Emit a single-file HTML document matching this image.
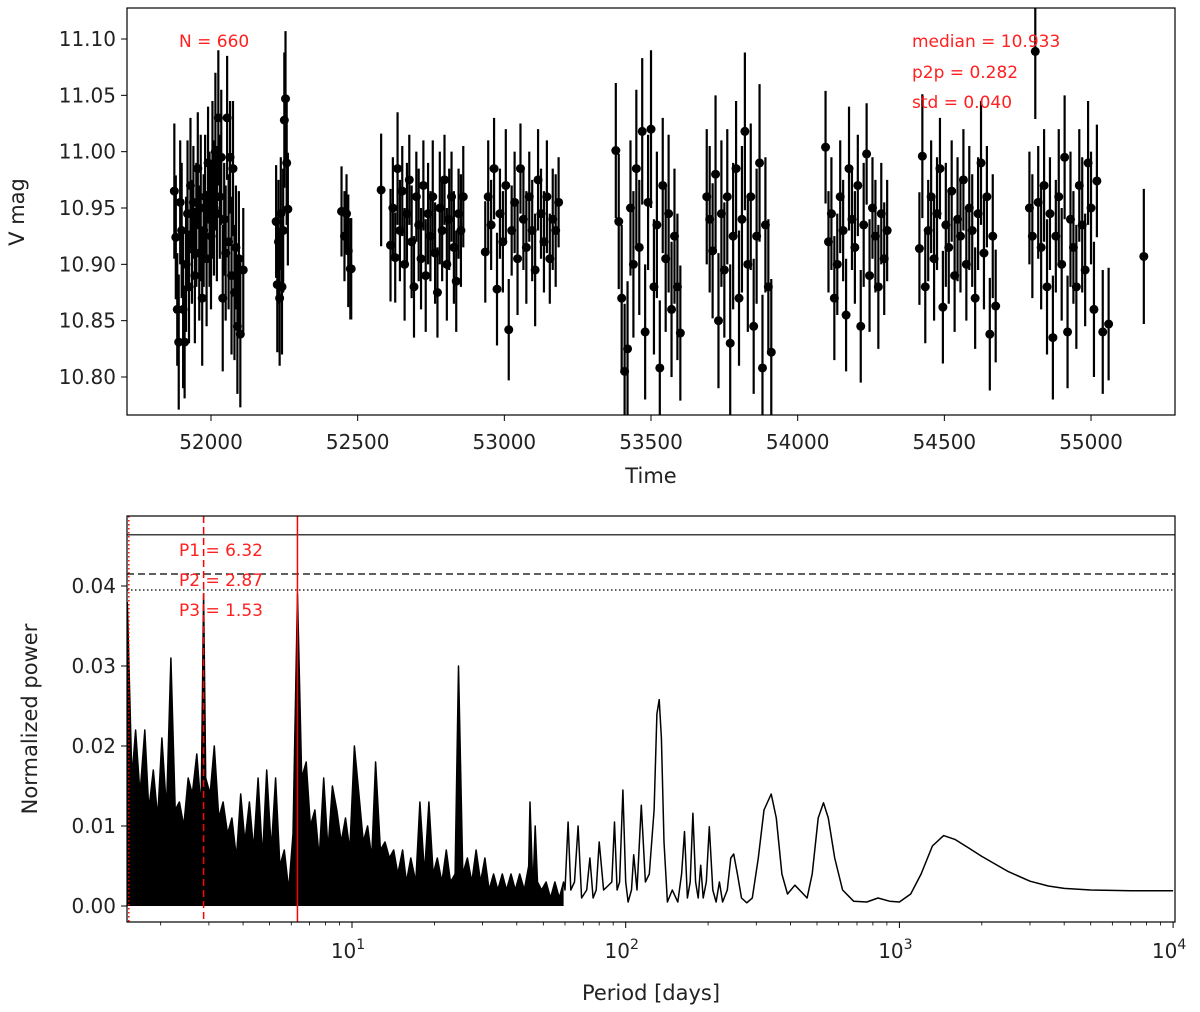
<!DOCTYPE html>
<html><head><meta charset="utf-8"><style>
html,body{margin:0;padding:0;background:#fff;}
svg{display:block;font-family:"DejaVu Sans","Liberation Sans",sans-serif;}
</style></head><body>
<svg id="fig" width="1200" height="1012" viewBox="0 0 1200 1012" xmlns="http://www.w3.org/2000/svg"></svg>
<script>
// ---- Light curve data ----
const times = [
51875,51880,51885,51890,51895,51900,51905,51910,51915,51920,51925,51930,51935,51940,51945,51950,51955,51960,51965,51970,51975,51980,51985,51990,51995,52000,52005,52010,52015,52020,52025,52030,52035,52040,52045,52050,52055,52060,52065,52070,52075,52080,52085,52090,52095,52100,52110,
52222,52226,52230,52234,52238,52242,52246,52250,52254,52258,52262,
52445,52455,52462,52468,52475,52478,
52580,
52612,52620,52628,52636,52644,52652,52660,52668,52676,52684,52692,52700,52708,52716,52724,52732,52740,52748,52756,52764,52772,52780,52788,52796,52804,52812,52820,52828,52836,52844,52852,52860,
52935,52945,52955,52965,52975,52985,52995,53005,53015,53025,53035,53045,53055,53065,53075,53085,53095,53105,53115,53125,53135,53145,53155,53165,53175,53185,
53380,53390,53400,53410,53420,53430,53440,53450,53460,53470,53480,53490,53500,53510,53520,53530,53540,53550,53560,53570,53580,53590,53600,
53690,53700,53710,53720,53730,53740,53750,53760,53770,53780,53790,53800,53810,53820,53830,53840,53850,53860,53870,53880,53890,53900,53910,
54095,54105,54115,54125,54135,54145,54155,54165,54175,54185,54195,54205,54215,54225,54235,54245,54255,54265,54275,54285,54295,54305,
54415,54425,54435,54445,54455,54465,54475,54485,54495,54505,54515,54525,54535,54545,54555,54565,54575,54585,54595,54605,54615,54625,54635,54645,54655,54665,54675,
54790,54800,54810,54820,54830,54840,54850,54860,54870,54880,54890,54900,54910,54920,54930,54940,54950,54960,54970,54980,54990,55000,55010,55020,55040,55060,55180];
const mags = [
10.965,10.924,10.860,10.831,10.955,10.930,10.860,10.831,10.900,10.945,10.880,10.970,10.920,10.955,10.890,10.935,10.985,10.910,10.950,10.870,10.930,10.960,10.905,10.990,10.940,10.925,10.975,10.950,11.000,10.945,11.030,10.960,10.995,10.870,10.940,10.910,11.030,10.920,10.995,10.890,10.985,10.875,10.915,10.845,10.905,10.838,10.895,
10.938,10.882,10.920,10.870,10.945,10.880,10.930,11.028,11.047,10.990,10.949,
10.947,10.925,10.945,10.912,10.896,10.896,
10.966,
10.917,10.950,10.906,10.985,10.930,10.965,10.900,10.945,10.975,10.920,10.880,10.960,10.935,10.905,10.970,10.890,10.945,10.925,10.960,10.910,10.875,10.950,10.930,10.975,10.900,10.940,10.960,10.915,10.885,10.945,10.930,10.960,
10.911,10.960,10.935,10.985,10.878,10.945,10.920,10.970,10.842,10.930,10.955,10.905,10.985,10.940,10.915,10.960,10.930,10.895,10.975,10.945,10.920,10.960,10.905,10.940,10.930,10.955,
11.001,10.938,10.870,10.805,10.825,10.950,10.900,10.985,10.915,11.018,10.840,10.955,11.020,10.880,10.935,10.808,10.970,10.905,10.945,10.860,10.925,10.880,10.839,
10.960,10.940,10.912,10.980,10.850,10.945,10.895,10.960,10.830,10.925,10.985,10.870,10.940,11.018,10.900,10.960,10.845,10.925,10.990,10.808,10.935,10.880,10.822,
11.004,10.920,10.945,10.870,10.900,10.960,10.930,10.855,10.985,10.940,10.915,10.970,10.845,10.935,10.998,10.890,10.950,10.925,10.880,10.945,10.905,10.930,
10.914,10.996,10.880,10.930,10.960,10.905,10.945,10.985,10.862,10.935,10.915,10.965,10.890,10.940,10.925,10.975,10.900,10.950,10.930,10.870,10.945,10.990,10.910,10.960,10.838,10.925,10.863,
10.950,10.925,11.089,10.955,10.915,10.970,10.880,10.945,10.835,10.925,10.960,10.900,10.995,10.840,10.940,10.915,10.880,10.970,10.935,10.895,10.990,10.950,10.860,10.974,10.840,10.847,10.907];
const errs = [
0.06,0.055,0.05,0.06,0.055,0.06,0.07,0.05,0.06,0.065,0.05,0.06,0.055,0.05,0.06,0.055,0.05,0.06,0.065,0.06,0.05,0.055,0.06,0.05,0.06,0.065,0.07,0.06,0.07,0.06,0.06,0.055,0.06,0.065,0.05,0.06,0.055,0.06,0.05,0.07,0.06,0.06,0.055,0.06,0.06,0.065,0.055,
0.05,0.06,0.055,0.06,0.05,0.06,0.055,0.06,0.06,0.055,0.05,
0.04,0.04,0.035,0.05,0.045,0.045,
0.05,
0.05,0.045,0.04,0.05,0.045,0.04,0.05,0.045,0.04,0.05,0.045,0.04,0.05,0.045,0.04,0.05,0.045,0.04,0.05,0.045,0.04,0.05,0.045,0.04,0.05,0.045,0.04,0.05,0.045,0.04,0.05,0.045,
0.045,0.05,0.04,0.045,0.05,0.04,0.045,0.05,0.045,0.04,0.045,0.05,0.04,0.045,0.05,0.04,0.045,0.05,0.045,0.04,0.045,0.05,0.04,0.045,0.05,0.04,
0.06,0.06,0.065,0.06,0.06,0.06,0.065,0.07,0.06,0.065,0.06,0.06,0.07,0.06,0.065,0.06,0.06,0.065,0.07,0.06,0.06,0.065,0.06,
0.06,0.065,0.06,0.07,0.06,0.065,0.06,0.06,0.07,0.065,0.06,0.06,0.065,0.07,0.06,0.065,0.06,0.06,0.07,0.065,0.06,0.06,0.065,
0.05,0.045,0.05,0.055,0.045,0.05,0.045,0.05,0.055,0.045,0.05,0.045,0.05,0.055,0.045,0.05,0.045,0.05,0.055,0.045,0.05,0.045,
0.05,0.055,0.05,0.045,0.05,0.055,0.05,0.045,0.05,0.055,0.05,0.045,0.05,0.055,0.05,0.045,0.05,0.055,0.05,0.045,0.05,0.055,0.05,0.045,0.05,0.055,0.05,
0.05,0.055,0.06,0.05,0.055,0.05,0.06,0.05,0.055,0.05,0.06,0.05,0.055,0.05,0.06,0.05,0.055,0.05,0.06,0.05,0.055,0.05,0.06,0.05,0.055,0.05,0.06];
const timeTicks = [52000,52500,53000,53500,54000,54500,55000];
const magTicks = [10.80,10.85,10.90,10.95,11.00,11.05,11.10];

// ---- Periodogram data ----
const periods = [
1.51,1.57,1.62,1.68,1.75,1.81,1.88,1.95,2.02,2.10,2.18,2.26,2.34,2.43,2.52,2.61,2.71,2.81,2.87,2.92,3.03,3.14,3.26,3.38,3.51,3.64,3.78,3.92,4.06,4.22,4.37,4.54,4.71,4.88,5.07,5.26,5.45,5.66,5.87,6.09,6.32,6.55,6.80,7.05,7.32,7.59,7.88,8.17,8.48,8.80,9.13,9.47,9.82,10.2,10.6,11.0,11.4,11.8,12.2,12.7,13.2,13.7,14.2,14.7,15.3,15.8,16.4,17.1,17.7,18.4,19.1,19.8,20.5,21.3,22.1,22.9,23.8,24.5,25.4,26.4,27.4,28.4,29.5,30.6,31.7,32.9,34.1,35.4,36.7,38.1,39.5,41.0,42.6,44.2,44.7,45.8,46.7,47.6,49.3,51.2,53.1,55.1,57.2,59.3,
60,61.6,63,65,67,69,72,74,76,78,80,83,86,89,91,93,95,97.7,100,102,105,107,110,114,118,122,127,130,132.5,135,138,142,148,155,160,164,168,172,176,180,184,188,192,197,202,208,214,220,226,235,242,248,256,265,277,290,305,320,340,355,372,390,415,440,460,480,505,528,550,580,620,680,760,835,920,1000,1100,1200,1320,1450,1600,1800,2000,2500,3000,3500,4000,5000,7000,10000];
const powers = [
0.038,0.016,0.022,0.014,0.022,0.012,0.017,0.011,0.021,0.012,0.031,0.012,0.013,0.010,0.016,0.014,0.019,0.012,0.039,0.016,0.014,0.020,0.011,0.013,0.009,0.011,0.006,0.014,0.008,0.013,0.007,0.016,0.006,0.017,0.007,0.016,0.005,0.007,0.002,0.009,0.039,0.016,0.018,0.010,0.012,0.006,0.016,0.007,0.015,0.012,0.008,0.011,0.007,0.020,0.014,0.008,0.010,0.006,0.018,0.007,0.008,0.006,0.007,0.004,0.007,0.003,0.006,0.003,0.013,0.004,0.013,0.004,0.006,0.003,0.007,0.003,0.004,0.030,0.004,0.006,0.003,0.007,0.003,0.006,0.002,0.004,0.002,0.004,0.002,0.004,0.002,0.004,0.002,0.005,0.013,0.002,0.010,0.003,0.002,0.003,0.001,0.003,0.001,0.003,
0.002,0.0105,0.002,0.003,0.010,0.001,0.002,0.006,0.001,0.002,0.008,0.002,0.0025,0.003,0.0105,0.002,0.003,0.0145,0.003,0.0005,0.002,0.0064,0.002,0.0126,0.003,0.004,0.012,0.024,0.0258,0.021,0.008,0.0005,0.002,0.0005,0.004,0.0093,0.001,0.003,0.0116,0.003,0.001,0.0051,0.001,0.003,0.0099,0.002,0.0005,0.003,0.0005,0.002,0.006,0.0065,0.004,0.001,0.0004,0.001,0.006,0.012,0.014,0.011,0.004,0.0015,0.0026,0.0017,0.001,0.004,0.011,0.0129,0.011,0.006,0.002,0.0006,0.0005,0.001,0.0006,0.0005,0.0015,0.004,0.0075,0.0088,0.0083,0.0072,0.0062,0.0043,0.0031,0.0025,0.0022,0.002,0.0019,0.0019];
const powerTicks = [0.00,0.01,0.02,0.03,0.04];
const periodDecades = [10,100,1000,10000];
const decadeLabels = ["1","2","3","4"];
const bestPeriods = [6.32,2.87,1.53];
const thresholds = [0.0464,0.0415,0.0395];

const NS="http://www.w3.org/2000/svg";
const svg=document.getElementById('fig');
function mk(tag,attrs,parent){const e=document.createElementNS(NS,tag);for(const k in attrs)e.setAttribute(k,attrs[k]);(parent||svg).appendChild(e);return e;}

const T={l:127,r:1175,t:8,b:415};
const xT=t=>211+(t-52000)*146.67/500;
const yM=m=>39+(11.10-m)*338/0.30;
const B={l:127,r:1175,t:516,b:922};
const xP=p=>352+273.7*(Math.log10(p)-1);
const yP=v=>906-v*8000;

mk('defs',{}).innerHTML='<clipPath id="ct"><rect x="127" y="8" width="1048" height="407"/></clipPath><clipPath id="cb"><rect x="127" y="516" width="1048" height="406"/></clipPath>';

// ---- top plot ----
const gTop=mk('g',{'clip-path':'url(#ct)'});


for(let i=0;i<times.length;i++){
  const x=xT(times[i]);
  const ln=mk('line',{x1:x,x2:x,y1:yM(mags[i]+errs[i]),y2:yM(mags[i]-errs[i]),stroke:'#000','stroke-width':2.2},gTop);
  
  
}
for(let i=0;i<times.length;i++){
  const c=mk('circle',{cx:xT(times[i]),cy:yM(mags[i]),r:4.5,fill:'#000'},gTop);
  
  
}
const frT=mk('rect',{x:T.l,y:T.t,width:T.r-T.l,height:T.b-T.t,fill:'none',stroke:'#000','stroke-width':1.2});


timeTicks.forEach(t=>{const x=xT(t);
  mk('line',{x1:x,x2:x,y1:T.b,y2:T.b+6,stroke:'#000','stroke-width':1});
  const tx=mk('text',{x:x,y:T.b+34,'font-size':20,'text-anchor':'middle',fill:'#222'});tx.textContent=t;
  
  
});
magTicks.forEach(m=>{const y=yM(m);
  mk('line',{x1:T.l-6,x2:T.l,y1:y,y2:y,stroke:'#000','stroke-width':1});
  const tx=mk('text',{x:T.l-11,y:y+7,'font-size':20,'text-anchor':'end',fill:'#222'});tx.textContent=m.toFixed(2);
  
  
});
let t1=mk('text',{x:651,y:483,'font-size':21,'text-anchor':'middle',fill:'#222'});t1.textContent='Time';


let t2=mk('text',{x:24,y:212,'font-size':21,'text-anchor':'middle',fill:'#222',transform:'rotate(-90 24 212)'});t2.textContent='V mag';


[['N = 660',179,47],['median = 10.933',912,47],['p2p = 0.282',912,78],['std = 0.040',912,108]].forEach(a=>{
  const tx=mk('text',{x:a[1],y:a[2],'font-size':17,fill:'#ff2020'});tx.textContent=a[0];
  
  
});

// ---- bottom plot ----
const gBot=mk('g',{'clip-path':'url(#cb)'});


let dense=[],all=[];
for(let i=0;i<periods.length;i++){
  const pt=xP(periods[i]).toFixed(1)+','+yP(powers[i]).toFixed(1);
  all.push(pt); if(periods[i]<60) dense.push(pt);
}
const fillPts=[xP(periods[0]).toFixed(1)+','+yP(0)].concat(dense);
fillPts.push(dense[dense.length-1].split(',')[0]+','+yP(0));
const fa=mk('polygon',{points:fillPts.join(' '),fill:'#000'},gBot);


const pl=mk('polyline',{points:all.join(' '),fill:'none',stroke:'#000','stroke-width':1.5,'stroke-linejoin':'round'},gBot);


const dashes=['none','7,4','1.5,2.5'];
thresholds.forEach((v,i)=>{
  const l=mk('line',{x1:B.l,x2:B.r,y1:yP(v),y2:yP(v),stroke:'#000','stroke-width':1.2,'stroke-dasharray':dashes[i]},gBot);
  
  
});
bestPeriods.forEach((p,i)=>{
  const l=mk('line',{x1:xP(p),x2:xP(p),y1:B.t,y2:B.b,stroke:'#ff0000','stroke-width':1.5,'stroke-dasharray':dashes[i]},gBot);
  
  
});
const frB=mk('rect',{x:B.l,y:B.t,width:B.r-B.l,height:B.b-B.t,fill:'none',stroke:'#000','stroke-width':1.2});


bestPeriods.forEach((p,i)=>{
  const tx=mk('text',{x:179,y:556+i*30,'font-size':17,fill:'#ff2020'});tx.textContent='P'+(i+1)+' = '+p.toFixed(2);
  
  
});
powerTicks.forEach(v=>{const y=yP(v);
  mk('line',{x1:B.l-6,x2:B.l,y1:y,y2:y,stroke:'#000','stroke-width':1});
  const tx=mk('text',{x:B.l-11,y:y+7,'font-size':20,'text-anchor':'end',fill:'#222'});tx.textContent=v.toFixed(2);
  
  
});
periodDecades.forEach((d,i)=>{const x=xP(d);
  mk('line',{x1:x,x2:x,y1:B.b,y2:B.b+6,stroke:'#000','stroke-width':1});
  const tx=mk('text',{x:x-4,y:B.b+36,'font-size':20,'text-anchor':'middle',fill:'#222'});
  tx.innerHTML='10<tspan dy="-9" font-size="14">'+decadeLabels[i]+'</tspan>';
  
  
});
[1,10,100,1000].forEach(d=>{for(let k=2;k<10;k++){const p=d*k;const x=xP(p);if(x<B.l)continue;
  mk('line',{x1:x,x2:x,y1:B.b,y2:B.b+3.5,stroke:'#000','stroke-width':0.8});}});
let t3=mk('text',{x:651,y:1000,'font-size':21,'text-anchor':'middle',fill:'#222'});t3.textContent='Period [days]';


let t4=mk('text',{x:37,y:719,'font-size':21,'text-anchor':'middle',fill:'#222',transform:'rotate(-90 37 719)'});t4.textContent='Normalized power';


</script>
</body></html>
